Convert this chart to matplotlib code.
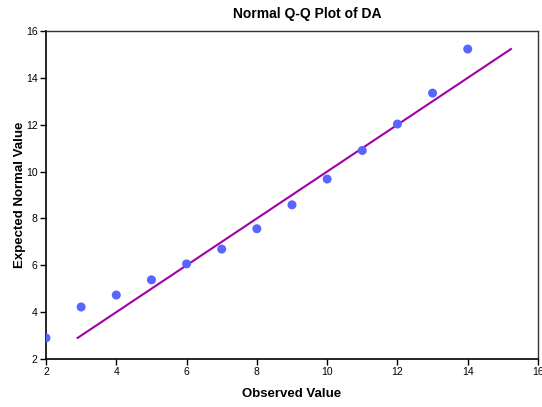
import matplotlib
matplotlib.use("Agg")
import matplotlib.pyplot as plt

plt.rcParams['font.family'] = ['Liberation Sans', 'DejaVu Sans']

# Observed values and their expected normal values
observed = [2, 3, 4, 5, 6, 7, 8, 9, 10, 11, 12, 13, 14]
expected = [2.90, 4.22, 4.73, 5.38, 6.06, 6.69, 7.56, 8.58, 9.68, 10.90, 12.03, 13.35, 15.23]

# Reference line (identity) spanning the expected-value range
line_x = [2.90, 15.23]
line_y = [2.90, 15.23]

ticks = [2, 4, 6, 8, 10, 12, 14, 16]

fig = plt.figure(figsize=(5.42, 4.07), dpi=100)
ax = fig.add_axes([46 / 542, 1 - 359 / 407, (538 - 46) / 542, (359 - 31) / 407])

ax.plot(line_x, line_y, color='#a000a8', linewidth=1.5, zorder=2)
ax.scatter(observed, expected, s=42, color='#5a64ff', edgecolors='none', zorder=3)

ax.set_xlim(2, 16)
ax.set_ylim(2, 16)
ax.set_xticks(ticks)
ax.set_yticks(ticks)
ax.tick_params(direction='out', length=4, width=1, labelsize=7.5, pad=2, color='black')

for s in ax.spines.values():
    s.set_linewidth(1.2)
    s.set_color('black')
ax.spines['top'].set_linewidth(1.0)
ax.spines['right'].set_linewidth(1.0)
ax.spines['top'].set_color('#333333')
ax.spines['right'].set_color('#333333')

fig.text(307 / 542, 1 - 14 / 407, 'Normal Q-Q Plot of DA', fontsize=10,
         fontweight='bold', ha='center', va='center')
ax.set_xlabel('Observed Value', fontsize=9.5, fontweight='bold')
ax.xaxis.set_label_coords(0.5, -(388 - 359) / 328)
ax.set_ylabel('Expected Normal Value', fontsize=9.5, fontweight='bold')
ax.yaxis.set_label_coords(-(46 - 26) / 492, 0.5)

fig.savefig('out.png', dpi=100)
